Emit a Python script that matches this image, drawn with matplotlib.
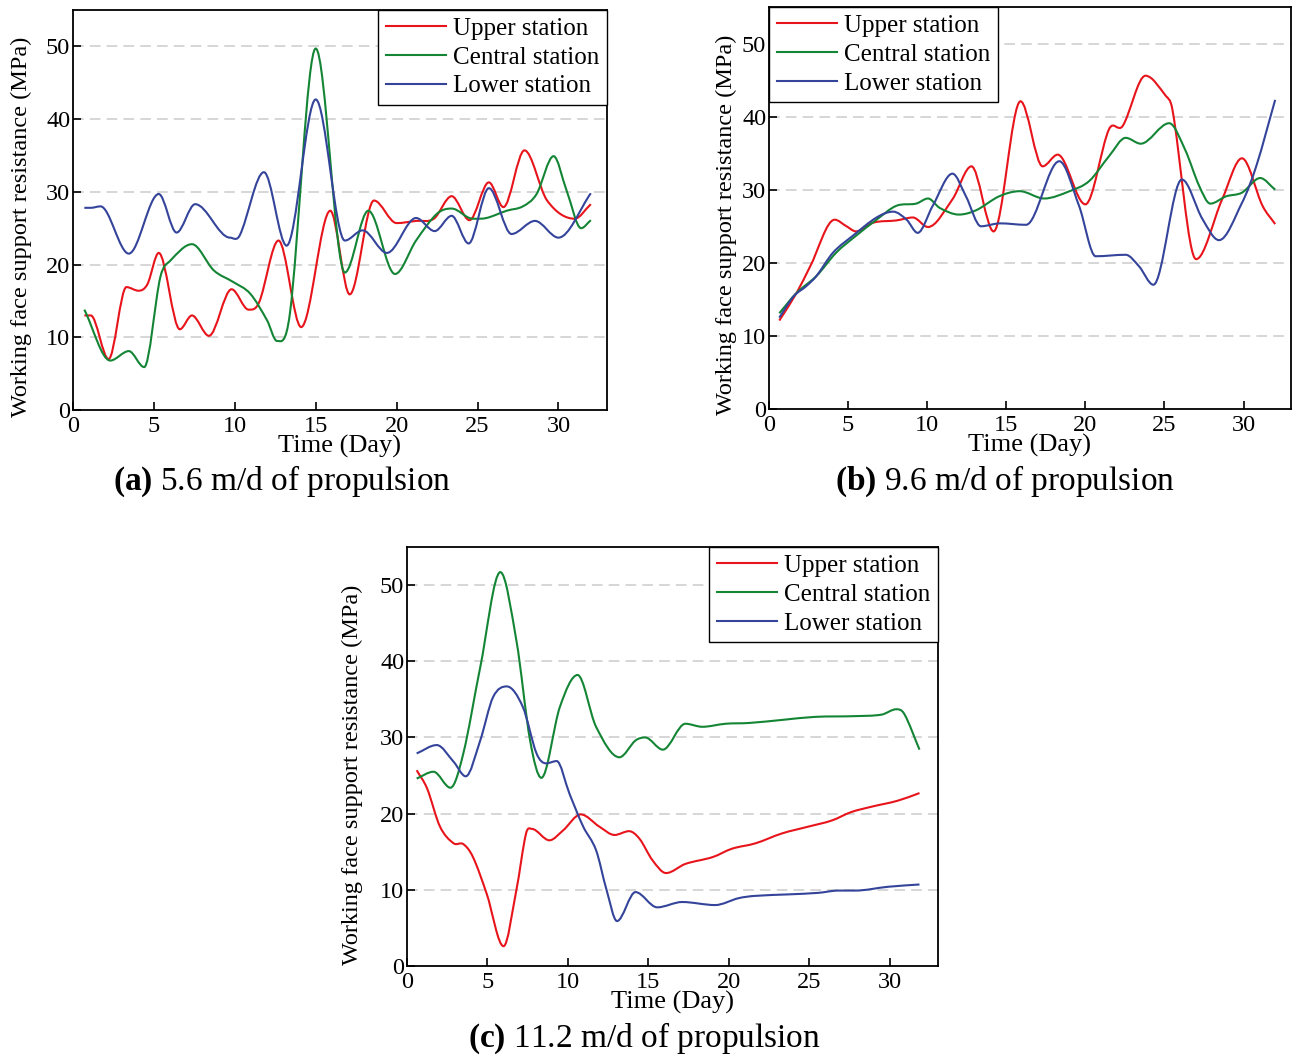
import matplotlib
matplotlib.use('Agg')
import matplotlib.pyplot as plt
import numpy as np
from matplotlib.path import Path
from matplotlib.patches import PathPatch
from matplotlib.lines import Line2D

plt.rcParams['font.family'] = ['Liberation Serif', 'DejaVu Serif']
plt.rcParams['mathtext.fontset'] = 'custom'
plt.rcParams['mathtext.rm'] = 'Liberation Serif'
plt.rcParams['mathtext.bf'] = 'Liberation Serif:bold'

# ---- data (day, MPa) ----
# (a) 5.6 m/d
a_up_x = [0.7, 1.1, 2.2, 3.3, 4.05, 4.6, 5.3, 6.6, 7.35, 8.4, 9.8, 10.85, 11.5, 12.7, 14.1,
          15.9, 17.1, 18.6, 20.0, 21.2, 22.3, 23.4, 24.5, 25.7, 26.6, 27.9, 29.3, 31.0, 32.0]
a_up_y = [13.0, 13.0, 7.0, 16.9, 16.4, 17.3, 21.6, 11.1, 13.0, 10.2, 16.6, 13.8, 14.8, 23.3, 11.4,
          27.4, 15.9, 28.8, 25.7, 26.0, 26.3, 29.4, 26.1, 31.3, 27.9, 35.7, 28.8, 26.3, 28.3]
a_mid_x = [0.7, 2.3, 3.45, 4.4, 5.4, 6.0, 7.35, 8.7, 9.9, 10.95, 12.0, 12.6, 13.4, 15.0,
           16.8, 18.25, 19.9, 21.2, 22.5, 23.4, 24.7, 25.55, 26.8, 27.8, 28.65, 29.7, 30.5, 31.4, 32.0]
a_mid_y = [13.8, 6.8, 8.1, 5.9, 18.3, 20.5, 22.8, 19.2, 17.6, 16.0, 12.3, 9.5, 13.2, 49.7,
           18.9, 27.4, 18.7, 23.3, 27.0, 27.7, 26.3, 26.4, 27.4, 28.0, 29.7, 34.9, 30.2, 25.0, 26.1]
a_low_x = [0.7, 1.1, 1.7, 3.45, 5.3, 6.4, 7.55, 9.7, 10.3, 11.8, 13.2, 15.0,
           16.8, 17.9, 19.4, 21.2, 22.35, 23.4, 24.45, 25.7, 27.1, 28.55, 30.0, 32.0]
a_low_y = [27.8, 27.8, 28.0, 21.5, 29.7, 24.4, 28.3, 23.7, 24.0, 32.7, 22.6, 42.7,
           23.3, 24.7, 21.6, 26.4, 24.6, 26.7, 22.9, 30.5, 24.2, 26.0, 23.7, 29.8]

# (b) 9.6 m/d
b_up_x = [0.65, 1.75, 2.6, 4.15, 4.9, 5.5, 6.6, 8.05, 9.1, 10.05, 11.6, 12.8, 14.2,
          15.9, 17.3, 18.25, 20.0, 21.5, 22.35, 23.8, 25.1, 25.5, 27.0, 28.65, 29.9, 31.2, 32.0]
b_up_y = [12.1, 15.9, 19.5, 25.9, 25.0, 24.3, 25.5, 25.8, 26.2, 24.9, 28.7, 33.2, 24.3,
          42.1, 33.2, 34.8, 28.0, 38.3, 38.7, 45.6, 42.8, 41.0, 20.5, 28.7, 34.3, 27.8, 25.3]
b_mid_x = [0.65, 1.75, 3.0, 4.25, 5.5, 6.8, 8.05, 9.3, 10.05, 10.8, 12.0, 13.1, 14.55,
           15.85, 17.4, 19.0, 20.25, 21.5, 22.55, 23.5, 25.3, 26.3, 27.2, 27.9, 28.9, 29.9, 31.05, 32.0]
b_mid_y = [13.1, 15.9, 18.2, 21.4, 23.7, 25.9, 27.8, 28.1, 28.8, 27.5, 26.6, 27.2, 29.1,
           29.8, 28.8, 29.8, 31.2, 34.6, 37.1, 36.3, 39.1, 35.5, 30.5, 28.1, 29.1, 29.6, 31.6, 30.0]
b_low_x = [0.65, 1.55, 2.35, 3.0, 4.05, 5.3, 6.8, 7.85, 8.7, 9.4, 10.35, 11.6, 12.45, 13.4,
           14.6, 16.25, 18.35, 19.6, 20.65, 22.55, 23.4, 24.3, 26.1, 27.4, 28.45, 29.9, 30.8, 32.0]
b_low_y = [12.5, 15.4, 16.8, 18.2, 21.4, 23.7, 26.2, 27.0, 25.9, 24.1, 27.8, 32.2, 29.1, 25.0,
           25.4, 25.2, 33.9, 27.8, 20.9, 21.1, 19.5, 17.0, 31.4, 26.0, 23.1, 28.2, 33.2, 42.3]

# (c) 11.2 m/d
c_up_x = [0.6, 1.25, 2.05, 2.9, 3.5, 4.1, 4.95, 6.0, 6.8, 7.4, 7.75, 8.85, 9.7, 10.8,
          11.95, 12.9, 13.8, 14.45, 15.25, 16.1, 17.3, 19.0, 20.2, 21.65, 23.3, 24.95,
          26.4, 27.6, 28.85, 30.5, 31.85]
c_up_y = [25.7, 23.3, 18.3, 16.1, 16.0, 14.3, 9.5, 2.6, 10.0, 17.4, 18.0, 16.5, 17.8, 19.9,
          18.3, 17.2, 17.7, 16.7, 13.9, 12.2, 13.4, 14.3, 15.4, 16.1, 17.4, 18.3,
          19.1, 20.2, 20.9, 21.7, 22.7]
c_mid_x = [0.6, 1.65, 2.7, 3.5, 4.55, 5.8, 6.8, 7.65, 8.35, 9.5, 10.6, 11.75, 13.2, 14.2,
           14.8, 15.9, 17.3, 18.35, 19.8, 21.25, 23.3, 25.35, 27.85, 29.5, 30.4, 30.9, 31.85]
c_mid_y = [24.6, 25.5, 23.4, 27.9, 39.2, 51.7, 42.7, 29.6, 24.7, 34.0, 38.2, 31.4, 27.4, 29.6,
           30.0, 28.4, 31.8, 31.4, 31.8, 31.9, 32.3, 32.7, 32.8, 33.0, 33.7, 33.1, 28.4]
c_low_x = [0.6, 1.85, 2.9, 3.65, 4.55, 5.35, 6.2, 7.2, 8.05, 8.65, 9.3, 10.1, 10.95, 11.75,
           12.4, 13.05, 14.2, 15.55, 17.1, 19.15, 20.6, 21.6, 23.7, 25.55, 26.8, 27.85, 29.9, 31.85]
c_low_y = [27.9, 29.0, 26.8, 24.9, 29.6, 35.3, 36.7, 34.0, 27.9, 26.6, 26.9, 22.6, 18.3, 15.2,
           10.0, 5.9, 9.7, 7.7, 8.4, 8.0, 8.9, 9.2, 9.4, 9.6, 9.9, 9.9, 10.4, 10.7]

labels = ['Upper station', 'Central station', 'Lower station']
colors = ['#e8141b', '#138535', '#34449a']


def smooth_path(x, y):
    # cubic Bezier through the read points (flat tangent at local extremes)
    x = np.asarray(x, float)
    y = np.asarray(y, float)
    n = len(x)
    m = np.zeros(n)
    for i in range(n):
        if i == 0:
            m[i] = (y[1] - y[0]) / (x[1] - x[0])
        elif i == n - 1:
            m[i] = (y[-1] - y[-2]) / (x[-1] - x[-2])
        elif (y[i] - y[i - 1]) * (y[i + 1] - y[i]) <= 0:
            m[i] = 0.0
        else:
            m[i] = (y[i + 1] - y[i - 1]) / (x[i + 1] - x[i - 1])
    verts = [(x[0], y[0])]
    codes = [Path.MOVETO]
    for i in range(n - 1):
        h = x[i + 1] - x[i]
        verts += [(x[i] + h / 3, y[i] + m[i] * h / 3),
                  (x[i + 1] - h / 3, y[i + 1] - m[i + 1] * h / 3),
                  (x[i + 1], y[i + 1])]
        codes += [Path.CURVE4] * 3
    return Path(verts, codes)


W, H = 1293, 1058
fig = plt.figure(figsize=(W / 100, H / 100), dpi=100)


def make_panel(box, series, caption, cap_xy, legend_loc, ylab_x):
    left, top, right, bottom = box
    ax = fig.add_axes([left / W, 1 - bottom / H, (right - left) / W, (bottom - top) / H])
    for (xs, ys), c in zip(series, colors):
        ax.add_patch(PathPatch(smooth_path(xs, ys), fill=False, edgecolor=c, lw=1.5, zorder=3))
    ax.set_xlim(0, 33)
    ax.set_ylim(0, 55)
    ax.set_xticks([0, 5, 10, 15, 20, 25, 30])
    ax.set_yticks([0, 10, 20, 30, 40, 50])
    for v in [10, 20, 30, 40, 50]:
        ax.axhline(v, color='#cccccc', lw=1.1, dashes=(7, 4), zorder=1)
    ax.tick_params(direction='in', length=6, width=1.2, labelsize=17.5, pad=2,
                   top=False, right=False)
    ax.tick_params(axis='x', pad=4)
    for s in ax.spines.values():
        s.set_linewidth(1.3)
        s.set_color('black')
    ax.set_xlabel('Time (Day)', fontsize=19)
    ax.set_ylabel('Working face support resistance (MPa)', fontsize=17.5)
    hgt = bottom - top
    ax.xaxis.set_label_coords(0.5, -25 / hgt)
    ax.yaxis.set_label_coords(ylab_x, 0.457)
    handles = [Line2D([], [], color=c, lw=1.5) for c in colors]
    anchor = (1, 1) if legend_loc == 'upper right' else (0, 1)
    leg = ax.legend(handles, labels, loc=legend_loc, bbox_to_anchor=anchor,
                    borderaxespad=0, fontsize=18, handlelength=2.4,
                    handletextpad=0.3, labelspacing=0.25, borderpad=0.3,
                    fancybox=False, framealpha=1, edgecolor='black')
    leg.get_frame().set_linewidth(1.0)
    leg.set_zorder(5)
    fig.text(cap_xy[0] / W, 1 - cap_xy[1] / H, caption, fontsize=24,
             ha='center', va='center')
    return ax


make_panel((73, 10, 607, 410),
           [(a_up_x, a_up_y), (a_mid_x, a_mid_y), (a_low_x, a_low_y)],
           r'$\mathbf{(a)}$ 5.6 m/d of propulsion', (282, 481), 'upper right', -0.077)
make_panel((769, 7, 1291, 409),
           [(b_up_x, b_up_y), (b_mid_x, b_mid_y), (b_low_x, b_low_y)],
           r'$\mathbf{(b)}$ 9.6 m/d of propulsion', (1005, 481), 'upper left', -0.061)
make_panel((407, 547, 938, 966),
           [(c_up_x, c_up_y), (c_mid_x, c_mid_y), (c_low_x, c_low_y)],
           r'$\mathbf{(c)}$ 11.2 m/d of propulsion', (644, 1038), 'upper right', -0.083)

fig.savefig('out.png', dpi=100)
